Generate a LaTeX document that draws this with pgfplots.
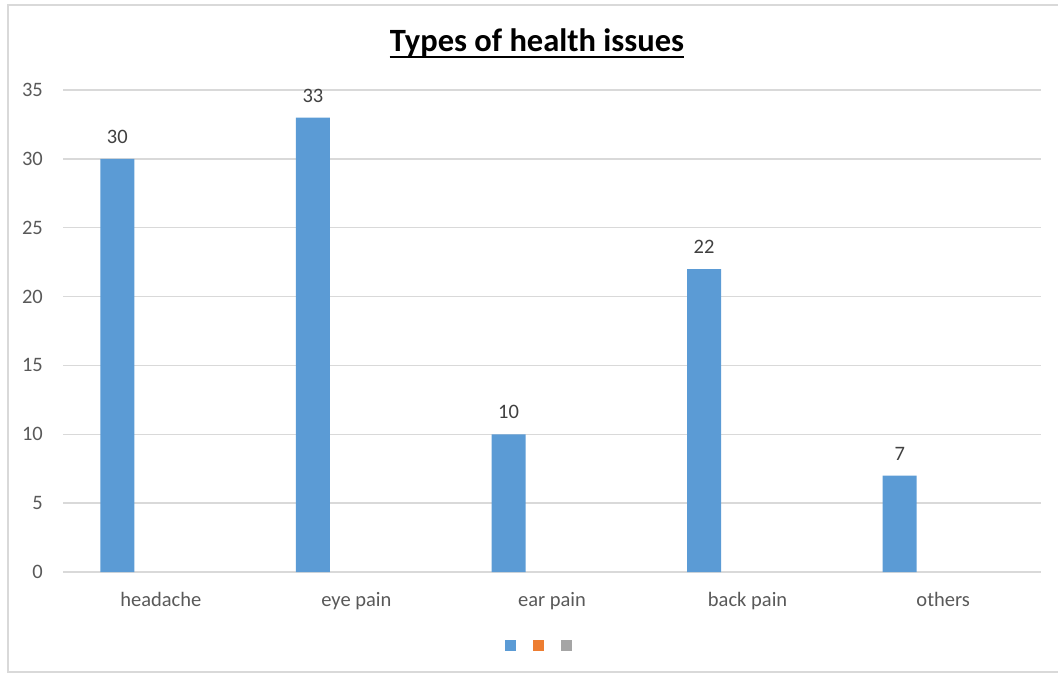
\documentclass[border=0pt]{standalone}
\usepackage{fontspec}
\setmainfont{Carlito}
\usepackage{pgfplots}
\pgfplotsset{compat=1.18}
\definecolor{barblue}{HTML}{5B9BD5}
\definecolor{barorange}{HTML}{ED7D31}
\definecolor{bargray}{HTML}{A5A5A5}
\definecolor{gridgray}{HTML}{D9D9D9}
\definecolor{labelgray}{HTML}{595959}
\definecolor{valuegray}{HTML}{404040}

\begin{document}
\begin{tikzpicture}[x=1pt,y=1pt]
\useasboundingbox (0,0) rectangle (1058,-674);
% chart frame (open on the right, where it runs past the edge)
\draw[gridgray, line width=1.5pt] (1058,-5) -- (8,-5) -- (8,-672) -- (1058,-672);
% underlined title
\node[inner sep=0pt, anchor=base, font=\fontsize{32.5}{38}\selectfont\bfseries] (title) at (537,-52) {Types of health issues};
\draw[line width=2.5pt] ([yshift=-5pt]title.base west) -- ([yshift=-5pt]title.base east);
\begin{axis}[
  at={(63pt,-572pt)}, anchor=south west,
  scale only axis, width=978pt, height=482pt,
  xmin=-0.5, xmax=4.5, ymin=0, ymax=35,
  ytick={0,5,...,35},
  xtick={0,...,4},
  xticklabels={headache,eye pain,ear pain,back pain,others},
  axis line style={draw=none},
  major tick length=0pt,
  ymajorgrids, grid style={gridgray, line width=1.3pt},
  /pgf/number format/assume math mode=true,
  ticklabel style={font=\fontsize{20.5}{24}\selectfont, text=labelgray, inner sep=0pt},
  yticklabel style={anchor=east, xshift=-20pt},
  xticklabel style={anchor=base, yshift=-34pt},
  legend style={draw=none, fill=none, inner sep=0pt,
    at={(0.4867,-0.1515)}, anchor=center,
    column sep=0pt, nodes={inner sep=0pt},
    /tikz/every even column/.append style={column sep=16pt}},
  legend columns=3,
  legend image code/.code={\fill[#1] (0pt,-5.5pt) rectangle (11pt,5.5pt);},
]
\addplot[ybar, fill=barblue, draw=none, bar width=34pt, bar shift=-43.5pt,
  nodes near coords,
  every node near coord/.append style={font=\fontsize{20.5}{24}\selectfont, text=valuegray, inner sep=0pt, anchor=south, xshift=-43.5pt, yshift=15pt},
  forget plot]
  coordinates {(0,30) (1,33) (2,10) (3,22) (4,7)};
\addlegendimage{fill=barblue, draw=none}
\addlegendentry{\strut}
\addlegendimage{fill=barorange, draw=none}
\addlegendentry{\strut}
\addlegendimage{fill=bargray, draw=none}
\addlegendentry{\strut}
\end{axis}
\end{tikzpicture}
\end{document}
